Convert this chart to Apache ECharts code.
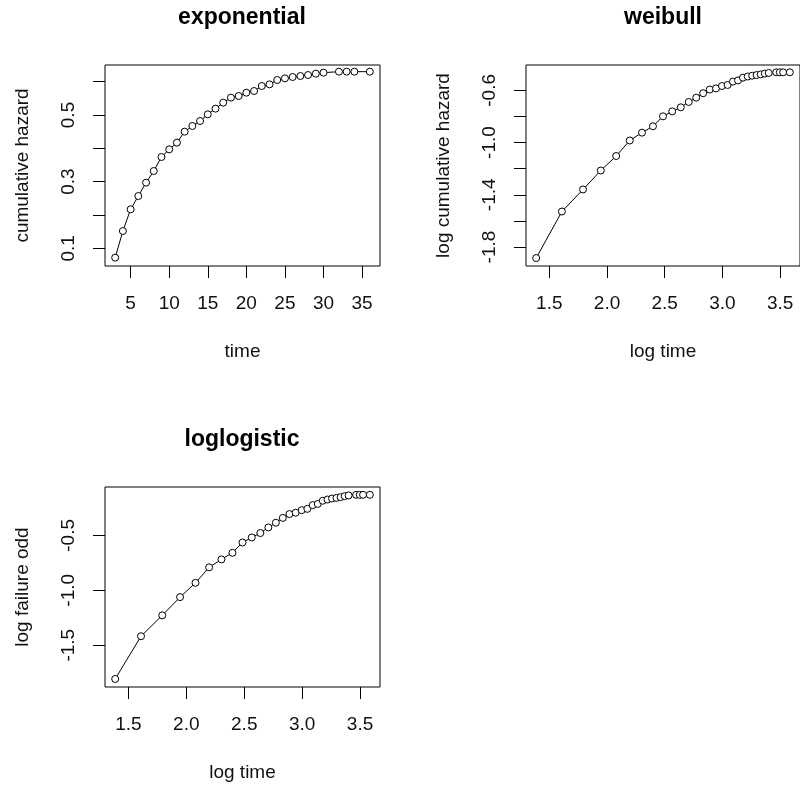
<!DOCTYPE html>
<html>
<head>
<meta charset="utf-8">
<script src="https://cdn.jsdelivr.net/npm/echarts@6/dist/echarts.min.js"></script>
<style>
  html, body { margin: 0; padding: 0; background: #fff; }
  #chart { width: 800px; height: 790px; }
</style>
</head>
<body>
<div id="chart"></div>
<script>
'use strict';

// exponential panel: time vs cumulative hazard
const expTime = [3, 4, 5, 6, 7, 8, 9, 10, 11, 12, 13, 14, 15, 16, 17, 18, 19, 20,
  21, 22, 23, 24, 25, 26, 27, 28, 29, 30, 32, 33, 34, 36];
const expHazard = [0.072, 0.152, 0.217, 0.257, 0.297, 0.332, 0.374, 0.397, 0.417, 0.450,
  0.467, 0.482, 0.502, 0.519, 0.537, 0.552, 0.557, 0.567, 0.572, 0.587, 0.592, 0.605,
  0.610, 0.614, 0.617, 0.620, 0.624, 0.627, 0.630, 0.630, 0.630, 0.630];

// weibull + loglogistic panels share the log time values (first time point dropped)
const logTime = [1.386, 1.609, 1.792, 1.946, 2.079, 2.197, 2.303, 2.398, 2.485, 2.565,
  2.639, 2.708, 2.773, 2.833, 2.890, 2.944, 2.996, 3.045, 3.091, 3.135, 3.178, 3.219,
  3.258, 3.296, 3.332, 3.367, 3.401, 3.466, 3.497, 3.526, 3.584];
const logHazard = [-1.884, -1.528, -1.359, -1.214, -1.103, -0.984, -0.924, -0.875, -0.799,
  -0.761, -0.730, -0.689, -0.656, -0.622, -0.594, -0.585, -0.567, -0.559, -0.533, -0.524,
  -0.503, -0.494, -0.488, -0.483, -0.478, -0.472, -0.467, -0.462, -0.462, -0.462, -0.462];
const logFailureOdd = [-1.807, -1.418, -1.228, -1.062, -0.932, -0.791, -0.719, -0.659, -0.565,
  -0.519, -0.479, -0.428, -0.385, -0.341, -0.306, -0.294, -0.271, -0.259, -0.225, -0.214,
  -0.185, -0.174, -0.165, -0.159, -0.152, -0.143, -0.137, -0.131, -0.131, -0.131, -0.131];

// ticks and labels
const expXTicks = [5, 10, 15, 20, 25, 30, 35];
const expYTicks = [0.1, 0.2, 0.3, 0.4, 0.5, 0.6];
const expYLabels = [0.1, 0.3, 0.5];
const logTimeTicks = [1.5, 2.0, 2.5, 3.0, 3.5];
const weiYTicks = [-1.8, -1.6, -1.4, -1.2, -1.0, -0.8, -0.6];
const weiYLabels = [-1.8, -1.4, -1.0, -0.6];
const llYTicks = [-1.5, -1.0, -0.5];

const FONT = '"Liberation Sans", Arial, sans-serif';
const chart = echarts.init(document.getElementById('chart'));

function zip(xs, ys) {
  return xs.map(function (x, i) { return [x, ys[i]]; });
}

function fmt(digits) {
  return function (v) { return v.toFixed(digits); };
}

function makeAxis(grid, min, max, ticks, labels, digits, name, isY) {
  return {
    type: 'value', gridIndex: grid, min: min, max: max,
    name: name, nameLocation: 'middle', nameGap: isY ? 73 : 76,
    nameTextStyle: { fontFamily: FONT, fontSize: 19, color: '#111' },
    axisLine: { show: false, onZero: false },
    splitLine: { show: false },
    axisTick: { show: true, customValues: ticks, length: 12, lineStyle: { color: '#000', width: 1 } },
    axisLabel: {
      customValues: labels, margin: isY ? 27 : 28, rotate: isY ? 90 : 0,
      formatter: fmt(digits), fontFamily: FONT, fontSize: 19, color: '#111'
    }
  };
}

function panelTitle(text, x, y) {
  return {
    text: text, left: x, top: y, textAlign: 'center', padding: 0,
    textStyle: { fontFamily: FONT, fontSize: 23, fontWeight: 'bold', color: '#000' }
  };
}

// open circles joined by a thin line (R type = "b")
function pointSeries(x, y, data) {
  return {
    type: 'line', xAxisIndex: x, yAxisIndex: y, data: data,
    symbol: 'circle', symbolSize: 7, showAllSymbol: true,
    itemStyle: { color: '#fff', borderColor: '#000', borderWidth: 1 },
    lineStyle: { color: '#000', width: 1 },
    animation: false
  };
}

const gridStyle = { show: true, borderColor: '#000', borderWidth: 1, backgroundColor: 'transparent' };

const option = {
  backgroundColor: '#fff',
  animation: false,
  title: [
    panelTitle('exponential', 242, 6),
    panelTitle('weibull', 663, 6),
    panelTitle('loglogistic', 242, 428)
  ],
  grid: [
    Object.assign({ left: 105, top: 65, width: 275, height: 201 }, gridStyle),
    Object.assign({ left: 526, top: 65, width: 275, height: 201 }, gridStyle),
    Object.assign({ left: 105, top: 487, width: 275, height: 200 }, gridStyle)
  ],
  xAxis: [
    makeAxis(0, 1.68, 37.32, expXTicks, expXTicks, 0, 'time', false),
    makeAxis(1, 1.298, 3.672, logTimeTicks, logTimeTicks, 1, 'log time', false),
    makeAxis(2, 1.298, 3.672, logTimeTicks, logTimeTicks, 1, 'log time', false)
  ],
  yAxis: [
    makeAxis(0, 0.047, 0.65, expYTicks, expYLabels, 1, 'cumulative hazard', true),
    makeAxis(1, -1.945, -0.406, weiYTicks, weiYLabels, 1, 'log cumulative hazard', true),
    makeAxis(2, -1.88, -0.06, llYTicks, llYTicks, 1, 'log failure odd', true)
  ],
  series: [
    pointSeries(0, 0, zip(expTime, expHazard)),
    pointSeries(1, 1, zip(logTime, logHazard)),
    pointSeries(2, 2, zip(logTime, logFailureOdd))
  ]
};

chart.setOption(option);
</script>
</body>
</html>
